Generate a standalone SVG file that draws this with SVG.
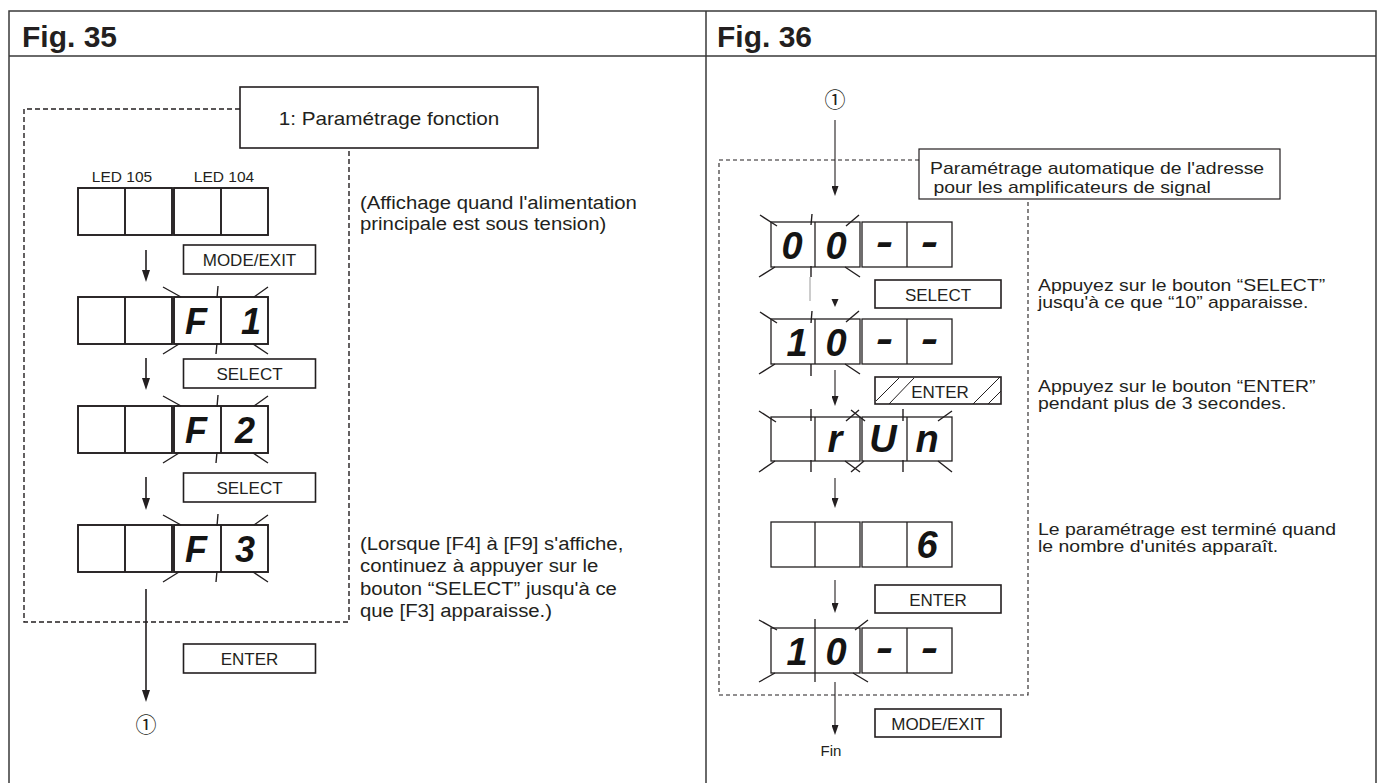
<svg xmlns="http://www.w3.org/2000/svg" width="1383" height="783" viewBox="0 0 1383 783">
<defs>
<style>
.frame{fill:none;stroke:#3a3a3a;stroke-width:1.5}
.box{fill:#fff;stroke:#231f20;stroke-width:1.6}
.box36{fill:#fff;stroke:#231f20;stroke-width:1.2}
.cell{fill:#fff;stroke:#231f20;stroke-width:1.9}
.cell36{fill:#fff;stroke:#231f20;stroke-width:1.3}
.dv{stroke:#231f20;stroke-width:1.9}
.dv36{stroke:#231f20;stroke-width:1.3}
.dash35{fill:none;stroke:#231f20;stroke-width:1.4;stroke-dasharray:5 3}
.dash36{fill:none;stroke:#231f20;stroke-width:1.1;stroke-dasharray:4 3}
.flash{fill:none;stroke:#231f20;stroke-width:1.4}
.hatch{fill:none;stroke:#231f20;stroke-width:1}
.arr35{fill:none;stroke:#231f20;stroke-width:1.6;marker-end:url(#ah35)}
.arr36{fill:none;stroke:#231f20;stroke-width:1.1;marker-end:url(#ah36)}
.t{font-family:"Liberation Sans",Arial,sans-serif;fill:#231f20}
.hdr{font-size:30px;font-weight:bold}
.body{font-size:18px}
.body36{font-size:17.2px}
.btnt{font-size:17px;text-anchor:middle}
.led{font-size:15.5px;text-anchor:middle}
.seg{font-family:"Liberation Sans",Arial,sans-serif;font-weight:bold;font-style:italic;font-size:36px;text-anchor:middle;fill:#141414}
.seg36{font-size:38px}
.circ{font-family:"Noto Sans CJK JP","DejaVu Sans",sans-serif;font-size:21px;text-anchor:middle;fill:#231f20}
</style>
<marker id="ah35" markerUnits="userSpaceOnUse" viewBox="0 0 12 8" markerWidth="12" markerHeight="8" refX="9" refY="4" orient="auto"><path d="M0,0 L12,4 L0,8 z" fill="#231f20"/></marker>
<marker id="ah36" markerUnits="userSpaceOnUse" viewBox="0 0 10 7" markerWidth="10" markerHeight="7" refX="7" refY="3.5" orient="auto"><path d="M0,0 L10,3.5 L0,7 z" fill="#231f20"/></marker>
</defs>
<rect width="1383" height="783" fill="#fff"/>

<g id="frame">
<path class="frame" d="M9,783 V11 H1376 V783 M9,56 H1376 M706,11 V783"/>
<text class="t hdr" x="22" y="47">Fig. 35</text>
<text class="t hdr" x="717" y="47">Fig. 36</text>
</g>

<g id="connectors">
<line class="arr35" x1="146" y1="250" x2="146" y2="279"/>
<line class="arr35" x1="146" y1="358" x2="146" y2="387"/>
<line class="arr35" x1="146" y1="477" x2="146" y2="507"/>
<line class="arr35" x1="146" y1="589" x2="146" y2="699"/>
<line class="arr36" x1="835" y1="120" x2="835" y2="193"/>
<line x1="810" y1="277" x2="810" y2="301" stroke="#9a9a9a" stroke-width="1"/>
<polygon points="831.5,299 838.5,299 835,307" fill="#231f20"/>
<line class="arr36" x1="835" y1="370" x2="835" y2="403"/>
<line class="arr36" x1="835" y1="478" x2="835" y2="505"/>
<line class="arr36" x1="835" y1="580" x2="835" y2="610"/>
<line class="arr36" x1="835" y1="682" x2="835" y2="732"/>
</g>

<g id="fig35-group">
<path class="dash35" d="M240,109 H24 V622 H349 V148"/>
</g>

<g id="fig35-title">
<rect class="box" x="240" y="87" width="298" height="61"/>
<text class="t body" text-anchor="middle" transform="translate(389,124.5) scale(1.15,1)">1: Paramétrage fonction</text>
</g>

<g id="led-row">
<text class="t led" x="122" y="181.5">LED 105</text>
<text class="t led" x="224" y="181.5">LED 104</text>
<rect class="cell" x="78" y="188" width="94" height="47"/>
<rect class="cell" x="174" y="188" width="94" height="47"/>
<line class="dv" x1="125" y1="188" x2="125" y2="235"/>
<line class="dv" x1="221" y1="188" x2="221" y2="235"/>
</g>

<g id="btn-modeexit-35">
<rect class="box" x="183.5" y="245" width="132" height="29"/>
<text class="t btnt" x="249.5" y="266">MODE/EXIT</text>
</g>

<g id="row-f1">
<rect class="cell" x="78" y="297" width="94" height="47"/>
<rect class="cell" x="174" y="297" width="94" height="47"/>
<line class="dv" x1="125" y1="297" x2="125" y2="344"/>
<line class="dv" x1="221" y1="297" x2="221" y2="344"/>
<path class="flash" d="M163,287L181,297 M218,286L217,298 M254,297L268,287 M163,354L179,344 M217,343L216,354 M253,344L268,354"/>
<text class="seg" x="196" y="333.5">F</text>
<text class="seg" x="251" y="333.5">1</text>
</g>

<g id="btn-select-35a">
<rect class="box" x="183.5" y="359" width="132" height="29"/>
<text class="t btnt" x="249.5" y="380">SELECT</text>
</g>

<g id="row-f2">
<rect class="cell" x="78" y="406" width="94" height="47"/>
<rect class="cell" x="174" y="406" width="94" height="47"/>
<line class="dv" x1="125" y1="406" x2="125" y2="453"/>
<line class="dv" x1="221" y1="406" x2="221" y2="453"/>
<path class="flash" d="M163,396L181,406 M218,395L217,407 M254,406L268,396 M163,463L179,453 M217,452L216,463 M253,453L268,463"/>
<text class="seg" x="196" y="442.5">F</text>
<text class="seg" x="245" y="442.5">2</text>
</g>

<g id="btn-select-35b">
<rect class="box" x="183.5" y="473" width="132" height="29"/>
<text class="t btnt" x="249.5" y="494">SELECT</text>
</g>

<g id="row-f3">
<rect class="cell" x="78" y="525" width="94" height="47"/>
<rect class="cell" x="174" y="525" width="94" height="47"/>
<line class="dv" x1="125" y1="525" x2="125" y2="572"/>
<line class="dv" x1="221" y1="525" x2="221" y2="572"/>
<path class="flash" d="M163,515L181,525 M218,514L217,526 M254,525L268,515 M163,582L179,572 M217,571L216,582 M253,572L268,582"/>
<text class="seg" x="196" y="561.5">F</text>
<text class="seg" x="245" y="561.5">3</text>
</g>

<g id="btn-enter-35">
<rect class="box" x="183.5" y="644" width="132" height="29"/>
<text class="t btnt" x="249.5" y="665">ENTER</text>
</g>

<g id="end-35">
<text class="circ" x="146" y="732">①</text>
</g>

<g id="note-35a">
<text class="t body" transform="translate(360,209) scale(1.13,1)"><tspan x="0" y="0">(Affichage quand l'alimentation</tspan><tspan x="0" y="21.5">principale est sous tension)</tspan></text>
</g>
<g id="note-35b">
<text class="t body" transform="translate(360,550) scale(1.13,1)"><tspan x="0" y="0">(Lorsque [F4] à [F9] s'affiche,</tspan><tspan x="0" y="22.5">continuez à appuyer sur le</tspan><tspan x="0" y="45">bouton “SELECT” jusqu'à ce</tspan><tspan x="0" y="67">que [F3] apparaisse.)</tspan></text>
</g>

<g id="start-36">
<text class="circ" x="835" y="107">①</text>
</g>

<g id="fig36-group">
<path class="dash36" d="M919,160 H719 V695 H1028 V199"/>
</g>

<g id="fig36-title">
<rect class="box36" x="919" y="149" width="361" height="50"/>
<text class="t body36" transform="translate(930,174) scale(1.13,1)"><tspan x="0" y="0">Paramétrage automatique de l'adresse</tspan><tspan x="3" y="19">pour les amplificateurs de signal</tspan></text>
</g>

<g id="row-00">
<rect class="cell36" x="771" y="222" width="89" height="45"/>
<rect class="cell36" x="862" y="222" width="90" height="45"/>
<line class="dv36" x1="815" y1="222" x2="815" y2="267"/>
<line class="dv36" x1="907" y1="222" x2="907" y2="267"/>
<path class="flash" d="M760,215L777,226 M812,214L811,225 M846,226L859,215 M759,277L775,267 M811,266L811,277 M845,267L860,277"/>
<text class="seg seg36" x="792" y="259">0</text>
<text class="seg seg36" x="836" y="259">0</text>
<text class="seg seg36" transform="translate(884.5,255) scale(1.35,1)">-</text>
<text class="seg seg36" transform="translate(929.5,255) scale(1.35,1)">-</text>
</g>

<g id="btn-select-36">
<rect class="box" x="875" y="280" width="126" height="28"/>
<text class="t btnt" x="938" y="300.5">SELECT</text>
</g>

<g id="row-10a">
<rect class="cell36" x="771" y="319" width="89" height="45"/>
<rect class="cell36" x="862" y="319" width="90" height="45"/>
<line class="dv36" x1="815" y1="319" x2="815" y2="364"/>
<line class="dv36" x1="907" y1="319" x2="907" y2="364"/>
<path class="flash" d="M760,312L777,323 M812,311L811,323 M846,322L859,311 M759,374L775,364 M811,364L811,376 M845,364L860,374"/>
<text class="seg seg36" x="797" y="356">1</text>
<text class="seg seg36" x="836" y="356">0</text>
<text class="seg seg36" transform="translate(884.5,352) scale(1.35,1)">-</text>
<text class="seg seg36" transform="translate(929.5,352) scale(1.35,1)">-</text>
</g>

<g id="btn-enter-hold">
<rect class="box" x="875" y="377" width="126" height="27"/>
<path class="hatch" d="M876,401L899,378 M889,404L914,378 M973,404L1000,377 M988,404L1001,391"/>
<text class="t btnt" x="940" y="397.5">ENTER</text>
</g>

<g id="row-run">
<rect class="cell36" x="771" y="417" width="89" height="44"/>
<rect class="cell36" x="862" y="417" width="90" height="44"/>
<line class="dv36" x1="815" y1="417" x2="815" y2="461"/>
<line class="dv36" x1="907" y1="417" x2="907" y2="461"/>
<path class="flash" d="M759,411L776,422 M811,409L811,421 M846,421L859,410 M851,410L865,421 M903,409L903,421 M938,421L952,411 M759,472L775,461 M811,460L811,472 M845,461L860,472 M851,472L864,461 M903,460L903,472 M938,461L952,472"/>
<text class="seg seg36" x="835" y="452">r</text>
<text class="seg seg36" x="883" y="452">U</text>
<text class="seg seg36" x="927" y="452">n</text>
</g>

<g id="row-6">
<rect class="cell36" x="771" y="522" width="89" height="45"/>
<rect class="cell36" x="862" y="522" width="90" height="45"/>
<line class="dv36" x1="815" y1="522" x2="815" y2="567"/>
<line class="dv36" x1="907" y1="522" x2="907" y2="567"/>
<text class="seg seg36" x="927" y="558">6</text>
</g>

<g id="btn-enter-36">
<rect class="box" x="875" y="585" width="126" height="28"/>
<text class="t btnt" x="938" y="605.5">ENTER</text>
</g>

<g id="row-10b">
<rect class="cell36" x="771" y="628" width="89" height="45"/>
<rect class="cell36" x="862" y="628" width="90" height="45"/>
<line class="dv36" x1="815" y1="619" x2="815" y2="682"/>
<line class="dv36" x1="907" y1="628" x2="907" y2="673"/>
<path class="flash" d="M759,620L777,630 M855,630L868,620 M759,682L775,673 M853,673L868,682"/>
<text class="seg seg36" x="797" y="665">1</text>
<text class="seg seg36" x="836" y="665">0</text>
<text class="seg seg36" transform="translate(884.5,661) scale(1.35,1)">-</text>
<text class="seg seg36" transform="translate(929.5,661) scale(1.35,1)">-</text>
</g>

<g id="btn-modeexit-36">
<rect class="box" x="875" y="709" width="126" height="28"/>
<text class="t btnt" x="938" y="729.5">MODE/EXIT</text>
</g>

<g id="end-36">
<text class="t" font-size="15" text-anchor="middle" x="831" y="756">Fin</text>
</g>

<g id="note-36a">
<text class="t body36" transform="translate(1038,291) scale(1.13,1)"><tspan x="0" y="0">Appuyez sur le bouton “SELECT”</tspan><tspan x="0" y="17.5">jusqu'à ce que “10” apparaisse.</tspan></text>
</g>
<g id="note-36b">
<text class="t body36" transform="translate(1038,392) scale(1.13,1)"><tspan x="0" y="0">Appuyez sur le bouton “ENTER”</tspan><tspan x="0" y="17.5">pendant plus de 3 secondes.</tspan></text>
</g>
<g id="note-36c">
<text class="t body36" transform="translate(1038,535) scale(1.13,1)"><tspan x="0" y="0">Le paramétrage est terminé quand</tspan><tspan x="0" y="17.5">le nombre d'unités apparaît.</tspan></text>
</g>
</svg>
